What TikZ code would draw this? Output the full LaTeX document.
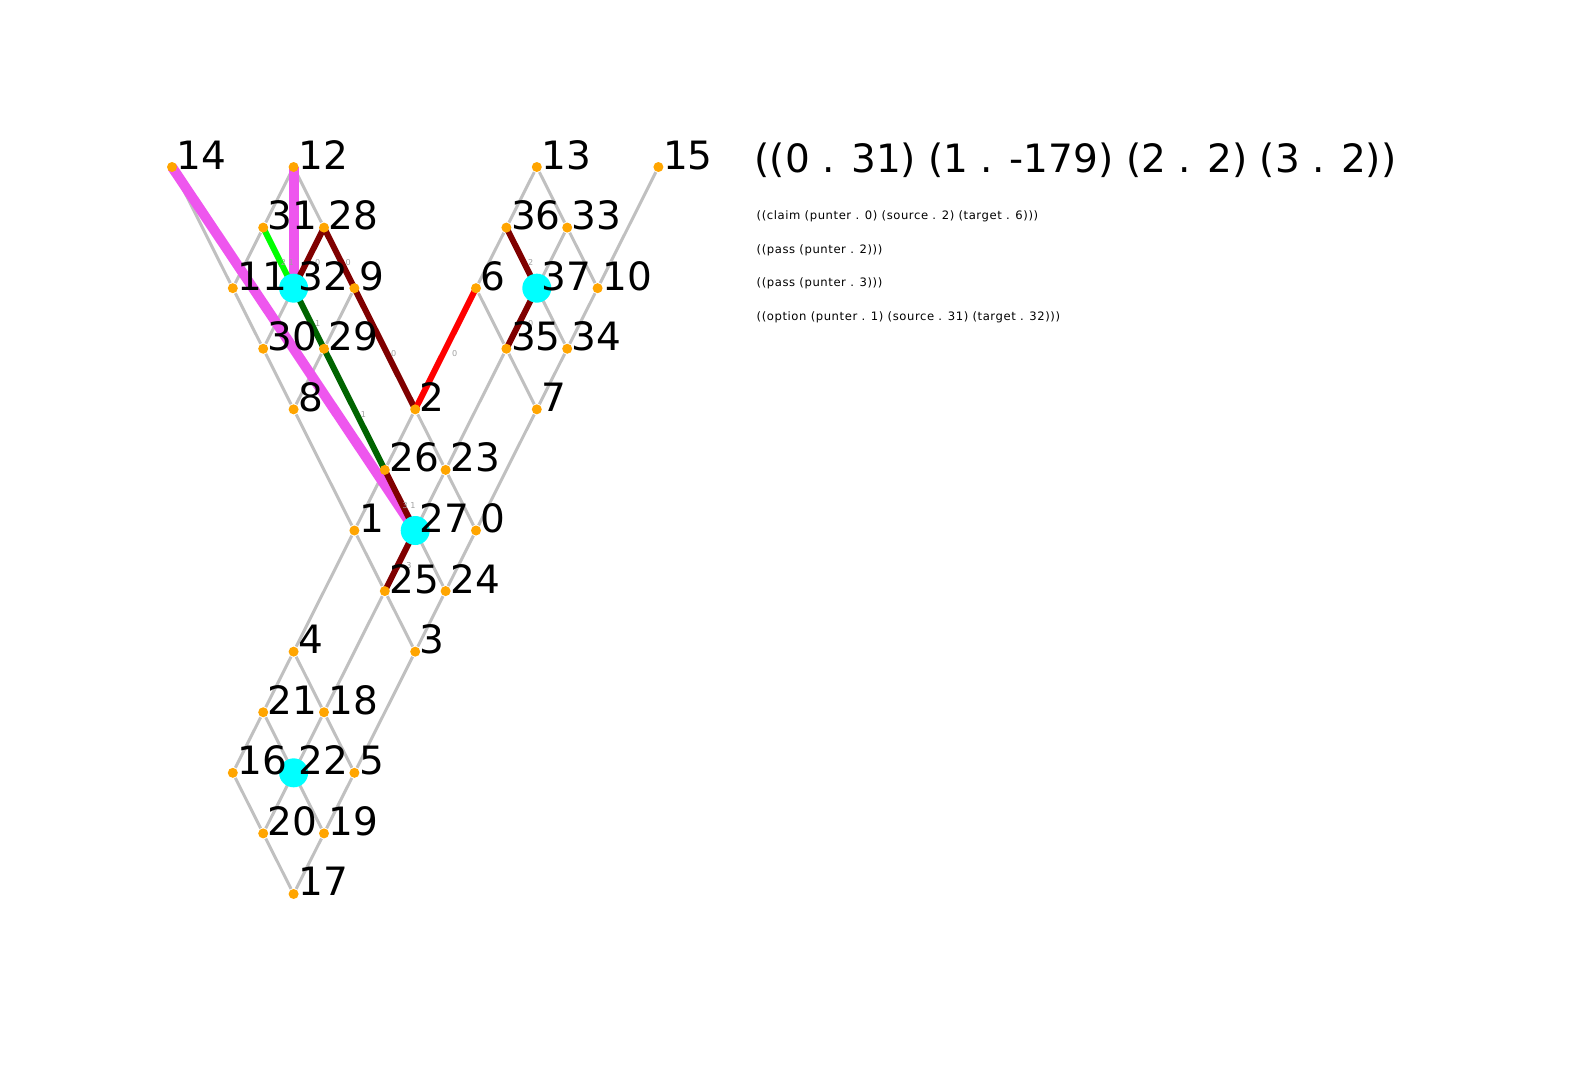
\documentclass[tikz,border=0pt]{standalone}
\usepackage{fontspec}
\setmainfont{DejaVu Sans}
\newfontfamily\logfont[LetterSpace=5]{DejaVu Sans}
\pgfdeclarelayer{rivers}
\pgfsetlayers{rivers,main}
\definecolor{rivergray}{RGB}{192,192,192}
\definecolor{townorange}{RGB}{255,165,0}
\definecolor{minecyan}{RGB}{0,255,255}
\definecolor{futureviolet}{RGB}{238,86,238}
\definecolor{claimmaroon}{RGB}{128,0,0}
\definecolor{claimred}{RGB}{255,0,0}
\definecolor{claimlime}{RGB}{0,255,0}
\definecolor{claimgreen}{RGB}{0,100,0}
\definecolor{taggray}{RGB}{160,160,160}
\begin{document}
\begin{tikzpicture}[
    town/.style={circle,fill=townorange,inner sep=0pt,minimum size=1mm},
    mine/.style={circle,fill=minecyan,inner sep=0pt,minimum size=2.9mm},
    townname/.style={anchor=base west,inner sep=0pt,xshift=0.4mm,yshift=-0.2mm,font=\fontsize{11.1}{13}\selectfont},
    river/.style={rivergray,line width=0.3mm},
    claim/.style={line width=0.6mm},
    future/.style={futureviolet,line width=1mm},
    tag/.style={midway,inner sep=0pt,xshift=0.9mm,yshift=-0.5mm,text=taggray,font=\fontsize{2.3}{2.3}\selectfont},
    logline/.style={anchor=base west,inner sep=0pt,font=\logfont\fontsize{3.3}{4}\selectfont}
  ]
  \useasboundingbox (0,0) rectangle (15.94,-10.8);
  % towns on the lattice
  \begin{scope}[x=0.304cm,y=-0.6058cm,shift={(5.658,2.757)}]
    \foreach \n/\i/\j in {14/0/0,12/4/0,13/12/0,15/16/0,
      31/3/1,28/5/1,36/11/1,33/13/1,
      11/2/2,32/4/2,9/6/2,6/10/2,37/12/2,10/14/2,
      30/3/3,29/5/3,35/11/3,34/13/3,
      8/4/4,2/8/4,7/12/4,
      26/7/5,23/9/5,
      1/6/6,27/8/6,0/10/6,
      25/7/7,24/9/7,
      4/4/8,3/8/8,
      21/3/9,18/5/9,
      16/2/10,22/4/10,5/6/10,
      20/3/11,19/5/11,
      17/4/12}
    {
      \node[town] (n\n) at (\i,\j) {};
    }
  \end{scope}
  \foreach \m in {32,37,27,22}
    \node[mine] (m\m) at (n\m.center) {};
  \foreach \n in {0,...,37}
    \node[townname] (l\n) at (n\n.center) {\n};
  \begin{pgfonlayer}{rivers}
    \foreach \a/\b in {12/31,12/28,14/11,31/11,11/30,32/30,9/29,30/8,29/8,8/1,
      2/26,2/23,26/1,23/27,23/0,23/35,7/0,1/25,1/4,27/24,0/24,25/3,25/18,24/3,
      3/5,4/21,4/18,21/16,21/22,18/22,18/5,16/20,22/20,22/19,5/19,20/17,19/17,
      13/36,13/33,36/6,33/37,33/10,15/10,6/35,37/34,10/34,35/7,34/7}
    {
      \draw[river] (n\a) -- (n\b);
    }
    \draw[future] (n12.center) -- (n32.center);
    \draw[future] (n14.center) -- (n27.center);
    \foreach \a/\b/\c/\o in {28/32/claimmaroon/0,28/9/claimmaroon/0,9/2/claimmaroon/0,
      26/27/claimmaroon/{3 1},27/25/claimmaroon/3,36/37/claimmaroon/2,37/35/claimmaroon/0,
      2/6/claimred/0,31/32/claimlime/{2 1},32/29/claimgreen/1,29/26/claimgreen/1}
    {
      \draw[claim,\c] (n\a.center) -- (n\b.center) node[tag] {\o};
    }
  \end{pgfonlayer}
  % scores and moves
  \node[anchor=base west,inner sep=0pt,font=\fontsize{11.1}{13}\selectfont] (scores) at (7.54,-1.73) {((0 . 31) (1 . -179) (2 . 2) (3 . 2))};
  \foreach \k/\txt in {0/{((claim (punter . 0) (source . 2) (target . 6)))},
    1/{((pass (punter . 2)))},
    2/{((pass (punter . 3)))},
    3/{((option (punter . 1) (source . 31) (target . 32)))}}
  {
    \node[logline] (move\k) at (7.56,{-2.2-0.334*\k}) {\txt};
  }
\end{tikzpicture}
\end{document}
